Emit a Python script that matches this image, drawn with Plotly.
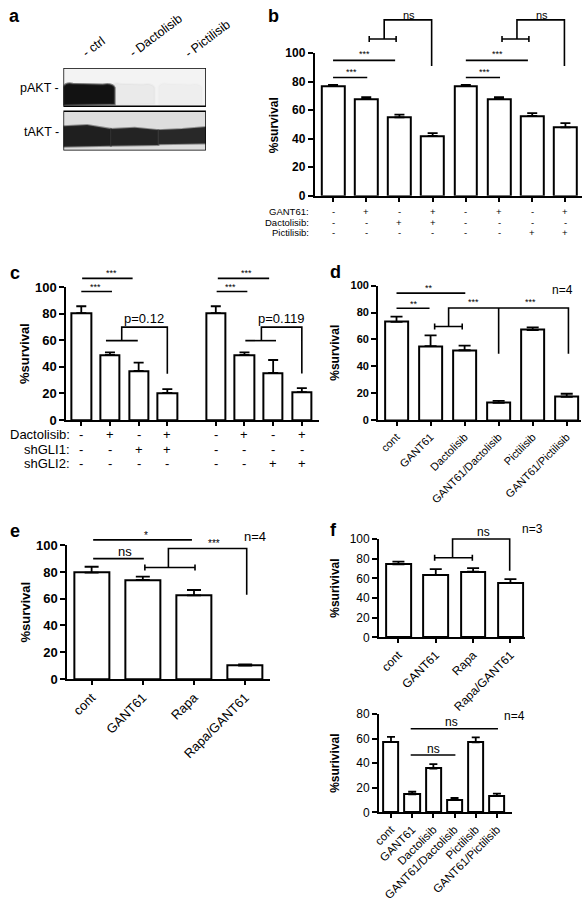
import plotly.graph_objects as go

W, H = 584, 903
FONT = "Liberation Sans"

# ---------------- data ----------------
blot_lanes = ["- ctrl", "- Dactolisib", "- Pictilisib"]
blot_rows = ["pAKT -", "tAKT -"]
pakt_band = [1.0, 0.04, 0.02]
takt_band = [0.95, 0.93, 0.9]

b_values = [77, 68, 55, 42, 77, 68, 56, 48]
b_errors = [0.8, 1.2, 2.0, 2.0, 0.8, 1.2, 2.0, 3.0]
b_rows = ["GANT61:", "Dactolisib:", "Pictilisib:"]
b_signs = [["-", "+", "-", "+", "-", "+", "-", "+"],
           ["-", "-", "+", "+", "-", "-", "-", "-"],
           ["-", "-", "-", "-", "-", "-", "+", "+"]]

c_values = [80.5, 49, 37, 20.5, 80.5, 49, 35.5, 21]
c_errors = [5.2, 2.0, 6.2, 2.8, 5.2, 2.0, 9.7, 3.0]
c_rows = ["Dactolisib:", "shGLI1:", "shGLI2:"]
c_signs = [["-", "+", "-", "+", "-", "+", "-", "+"],
           ["-", "-", "+", "+", "-", "-", "-", "-"],
           ["-", "-", "-", "-", "-", "-", "+", "+"]]

d_labels = ["cont", "GANT61", "Dactolisib", "GANT61/Dactolisib", "Pictilisib", "GANT61/Pictilisib"]
d_values = [73, 55, 52, 13, 67, 17.5]
d_errors = [4, 8, 3.5, 1.5, 2, 2.2]

e_labels = ["cont", "GANT61", "Rapa", "Rapa/GANT61"]
e_values = [79.5, 74, 62.5, 10]
e_errors = [4.4, 2.5, 4, 0.8]

f1_labels = ["cont", "GANT61", "Rapa", "Rapa/GANT61"]
f1_values = [74.3, 63.3, 66.7, 55.3]
f1_errors = [2.7, 6, 3.6, 4]

f2_labels = ["cont", "GANT61", "Dactolisib", "GANT61/Dactolisib", "Pictilisib", "GANT61/Pictilisib"]
f2_values = [57.4, 14.7, 35.7, 10.4, 57, 13.3]
f2_errors = [4, 2.1, 3.5, 1.3, 4, 1.9]

ticks_100 = [0, 20, 40, 60, 80, 100]
ticks_80 = [0, 20, 40, 60, 80]

# bar positions (category slots)
b_pos = [0, 1, 2, 3, 4, 5, 6, 7]
c_pos = [0, 1, 2, 3, 4.69, 5.69, 6.69, 7.69]
d_pos = [0, 1, 2, 3, 4, 5]
e_pos = [0, 1, 2, 3]
f2_pos = [0, 1, 2, 3, 4, 5]

# significance marks: polylines (x slot, y %), capped spans, texts
b_lines = [[(0, 83), (1.03, 83)], [(0, 95), (1.87, 95)],
           [(1.54, 110), (1.54, 123.4), (2.97, 123.4), (2.97, 91)],
           [(4, 83), (5.03, 83)], [(4, 95), (5.87, 95)],
           [(5.54, 110), (5.54, 123.4), (6.97, 123.4), (6.97, 91)]]
b_caps = [(1.09, 1.9, 110), (5.09, 5.9, 110)]
b_texts = [(0.55, 87, "***", 9), (0.94, 99.5, "***", 9), (2.28, 127, "ns", 11),
           (4.55, 87, "***", 9), (4.94, 99.5, "***", 9), (6.28, 127, "ns", 11)]

c_lines = [[(0, 96.8), (1.07, 96.8)], [(0.03, 106.7), (1.79, 106.7)],
           [(0.86, 59.8), (1.97, 59.8)], [(1.41, 59.8), (1.41, 70), (3.0, 70), (3.0, 34.8)],
           [(4.72, 96.8), (5.79, 96.8)], [(4.76, 106.7), (6.55, 106.7)],
           [(5.72, 59.8), (6.79, 59.8)], [(6.28, 59.8), (6.28, 70), (7.69, 70), (7.69, 35)]]
c_caps = []
c_texts = [(0.48, 100.5, "***", 9), (1.07, 111, "***", 9), (2.2, 76.5, "p=0.12", 13),
           (5.2, 100.5, "***", 9), (5.76, 111, "***", 9), (6.95, 76.5, "p=0.119", 13)]

d_lines = [[(0, 83.2), (0.97, 83.2)], [(0, 94.4), (2.02, 94.4)],
           [(1.53, 69.6), (1.53, 83.4), (5.05, 83.4), (5.05, 49.4)],
           [(3.0, 83.4), (3.0, 49.4)]]
d_caps = [(1.12, 1.93, 69.6)]
d_texts = [(0.51, 86.5, "**", 9), (0.94, 98, "**", 9), (2.25, 87.5, "***", 9),
           (3.94, 87.5, "***", 9), (4.87, 97, "n=4", 12)]

e_lines = [[(0.03, 90), (1.02, 90)], [(0.03, 104), (1.96, 104)],
           [(1.5, 83.3), (1.5, 97.5), (3.03, 97.5), (3.03, 63)]]
e_caps = [(1.04, 2.02, 83.3)]
e_texts = [(0.65, 95, "ns", 13), (1.07, 107.5, "*", 10), (2.39, 101, "***", 10),
           (3.2, 106.6, "n=4", 13)]

f1_lines = [[(1.45, 81), (1.45, 100), (2.98, 100), (2.98, 67.7)]]
f1_caps = [(0.97, 1.98, 81)]
f1_texts = [(2.27, 106.7, "ns", 12), (3.6, 110, "n=3", 12)]

f2_lines = [[(0.93, 46.7), (3.04, 46.7)], [(0.93, 68), (5.05, 68)]]
f2_caps = []
f2_texts = [(2.0, 51.5, "ns", 12), (2.85, 73.8, "ns", 12), (5.84, 78.4, "n=4", 12)]

# ---------------- figure ----------------
fig = go.Figure()
lay = {}
shapes, annots = [], []
EXT_R = 584


def key(letter, i):
    return f"{letter}axis" + ("" if i == 1 else str(i))


def ref(letter, i):
    return letter + ("" if i == 1 else str(i))


def add_panel(n, xs, vals, errs, g, bar_w, cap_w, ymax, yticks, tick_font,
              xlabels=None, xlab_size=11):
    bi, ei = 2 * n - 1, 2 * n
    bx, by, ex, ey = ref('x', bi), ref('y', bi), ref('x', ei), ref('y', ei)
    fig.add_trace(go.Bar(
        x=xs, y=vals, width=bar_w, xaxis=bx, yaxis=by,
        marker=dict(color='white', line=dict(color='black', width=2)),
        error_y=dict(type='data', symmetric=False, array=errs,
                     arrayminus=[0] * len(errs), color='black',
                     thickness=1.8, width=cap_w),
        showlegend=False, hoverinfo='skip'))
    fig.add_trace(go.Scatter(x=[], y=[], xaxis=ex, yaxis=ey, showlegend=False))
    lay[key('x', bi)] = dict(
        domain=[g['left'] / W, g['right'] / W], range=[g['xlo'], g['xhi']],
        anchor=by, showline=True, linecolor='black', linewidth=2,
        ticks='outside', ticklen=4, tickwidth=1.5, tickcolor='black',
        tickmode='array', tickvals=list(xs),
        ticktext=xlabels if xlabels else [''] * len(xs),
        tickangle=-45 if xlabels else 0,
        tickfont=dict(size=xlab_size, color='black', family=FONT),
        showgrid=False, zeroline=False, fixedrange=True)
    lay[key('y', bi)] = dict(
        domain=[1 - g['bottom'] / H, 1 - g['top'] / H], range=[0, ymax],
        anchor=bx, showline=True, linecolor='black', linewidth=2,
        ticks='outside', ticklen=5, tickwidth=1.5, tickcolor='black',
        tickmode='array', tickvals=yticks, tickfont=tick_font,
        showgrid=False, zeroline=False, fixedrange=True)
    span = (g['xhi'] - g['xlo']) * (EXT_R - g['left']) / (g['right'] - g['left'])
    lay[key('x', ei)] = dict(domain=[g['left'] / W, EXT_R / W],
                             range=[g['xlo'], g['xlo'] + span], anchor=ey,
                             visible=False, fixedrange=True)
    lay[key('y', ei)] = dict(
        domain=[1 - g['bottom'] / H, 1 - g['ext_top'] / H],
        range=[0, ymax * (g['bottom'] - g['ext_top']) / (g['bottom'] - g['top'])],
        anchor=ex, visible=False, fixedrange=True)
    return bx, ex, ey, (g['bottom'] - g['top']) / ymax


def draw_sig(ex, ey, ppu, lines, caps, texts, cap_px=3, lw=1.6):
    for pl in lines:
        path = "M " + " L ".join(f"{x},{y}" for x, y in pl)
        shapes.append(dict(type='path', path=path, xref=ex, yref=ey,
                           line=dict(color='black', width=lw)))
    h = cap_px / ppu
    for x0, x1, y in caps:
        path = (f"M {x0},{y - h} L {x0},{y + h} M {x0},{y} L {x1},{y} "
                f"M {x1},{y - h} L {x1},{y + h}")
        shapes.append(dict(type='path', path=path, xref=ex, yref=ey,
                           line=dict(color='black', width=lw)))
    for x, y, s, size in texts:
        annots.append(dict(x=x, y=y, xref=ex, yref=ey, text=s, showarrow=False,
                           font=dict(size=size, color='black', family=FONT),
                           xanchor='center', yanchor='middle'))


def ptext(xpx, ypx, s, size, bold=False, angle=0, xa='center', ya='middle'):
    annots.append(dict(x=xpx / W, y=1 - ypx / H, xref='paper', yref='paper',
                       text=(f"<b>{s}</b>" if bold else s), showarrow=False,
                       textangle=angle, xanchor=xa, yanchor=ya,
                       font=dict(size=size, color='black', family=FONT)))


def row_labels(bx, xs, rows, signs, right_px, ys_px, size):
    for r, lab in enumerate(rows):
        ptext(right_px, ys_px[r], lab, size, xa='right')
        for xi, s in zip(xs, signs[r]):
            annots.append(dict(x=xi, y=1 - ys_px[r] / H, xref=bx, yref='paper',
                               text=s, showarrow=False, xanchor='center',
                               yanchor='middle',
                               font=dict(size=size, color='black', family=FONT)))


bold12 = dict(size=12, color='black', family=FONT, weight='bold')
bold13 = dict(size=13, color='black', family=FONT, weight='bold')
bold11 = dict(size=11, color='black', family=FONT, weight='bold')
reg12 = dict(size=12, color='black', family=FONT)

# panel b
geo_b = dict(left=312, right=582, bottom=192, top=47, ext_top=0, xlo=-0.55, xhi=7.5)
bx, ex, ey, ppu = add_panel(1, b_pos, b_values, b_errors, geo_b, 0.69, 5, 100, ticks_100, bold12)
draw_sig(ex, ey, ppu, b_lines, b_caps, b_texts)
row_labels(bx, b_pos, b_rows, b_signs, 308, [208, 219, 229.5], 9.5)

# panel c
geo_c = dict(left=61, right=316, bottom=420, top=285, ext_top=250, xlo=-0.52, xhi=8.28)
bx, ex, ey, ppu = add_panel(2, c_pos, c_values, c_errors, geo_c, 0.67, 5, 100, ticks_100, bold13)
draw_sig(ex, ey, ppu, c_lines, c_caps, c_texts)
row_labels(bx, c_pos, c_rows, c_signs, 67, [435, 449.5, 464], 13)

# panel d
geo_d = dict(left=376, right=581, bottom=420.3, top=283.3, ext_top=255, xlo=-0.54, xhi=5.42)
bx, ex, ey, ppu = add_panel(3, d_pos, d_values, d_errors, geo_d, 0.68, 6, 100, ticks_100, bold11,
                            xlabels=d_labels, xlab_size=11)
draw_sig(ex, ey, ppu, d_lines, d_caps, d_texts)

# panel e
geo_e = dict(left=62, right=267, bottom=683.3, top=547.3, ext_top=515, xlo=-0.474, xhi=3.49)
bx, ex, ey, ppu = add_panel(4, e_pos, e_values, e_errors, geo_e, 0.68, 7, 100, ticks_100, bold13,
                            xlabels=e_labels, xlab_size=13)
draw_sig(ex, ey, ppu, e_lines, e_caps, e_texts)

# panel f top
geo_f1 = dict(left=377, right=524, bottom=641, top=541, ext_top=515, xlo=-0.517, xhi=3.38)
bx, ex, ey, ppu = add_panel(5, e_pos, f1_values, f1_errors, geo_f1, 0.66, 6, 100, ticks_100, reg12,
                            xlabels=f1_labels, xlab_size=12)
draw_sig(ex, ey, ppu, f1_lines, f1_caps, f1_texts)

# panel f bottom
geo_f2 = dict(left=377, right=511, bottom=819, top=719, ext_top=705, xlo=-0.56, xhi=5.7)
bx, ex, ey, ppu = add_panel(6, f2_pos, f2_values, f2_errors, geo_f2, 0.72, 4, 80, ticks_80, reg12,
                            xlabels=f2_labels, xlab_size=11.5)
draw_sig(ex, ey, ppu, f2_lines, f2_caps, f2_texts)

# panel a : western blot on its own lane axes
fig.add_trace(go.Scatter(x=[], y=[], xaxis='x13', yaxis='y13', showlegend=False))
lay['xaxis13'] = dict(domain=[58 / W, 202 / W], range=[0, 3], anchor='y13', visible=False, fixedrange=True)
lay['yaxis13'] = dict(domain=[1 - 146 / H, 1 - 62 / H], range=[0, 2.1], anchor='x13', visible=False, fixedrange=True)
shapes.append(dict(type='rect', xref='x13', yref='y13', x0=0, x1=3, y0=1.125, y1=2.1,
                   fillcolor='#f3f3f3', line=dict(width=0), layer='below'))
shapes.append(dict(type='rect', xref='x13', yref='y13', x0=0, x1=3, y0=0, y1=1,
                   fillcolor='#dedede', line=dict(width=0), layer='below'))
# pAKT bands (one per lane, darkness from intensity)
for i, v in enumerate(pakt_band):
    x0, x1 = i + 0.0, i + (1.08 if i == 0 else 0.92)
    path = (f"M {x0},1.16 L {x0},1.62 Q {x0 + 0.05},1.74 {x0 + 0.2},1.70 "
            f"L {x1 - 0.25},1.68 Q {x1 - 0.05},1.72 {x1},1.6 L {x1},1.18 Z")
    shapes.append(dict(type='path', path=path, xref='x13', yref='y13',
                       fillcolor=f'rgba(18,18,18,{v:.3f})',
                       line=dict(color=f'rgba(60,60,60,{0.6 * v:.3f})', width=2)))
# tAKT bands
t_top = [0.62, 0.55, 0.52]
t_bot = [0.1, 0.12, 0.16]
for i, v in enumerate(takt_band):
    x0, x1 = i, i + 1
    top_r = 0.6 if i == 2 else t_top[i + 1] if i + 1 < 3 else t_top[i]
    path = (f"M {x0},{t_bot[i]} L {x0},{t_top[i]} L {x0 + 0.5},{t_top[i] + 0.03} "
            f"L {x1},{top_r} L {x1},{t_bot[i] + 0.02} Z")
    shapes.append(dict(type='path', path=path, xref='x13', yref='y13',
                       fillcolor=f'rgba(20,20,20,{v:.3f})',
                       line=dict(color=f'rgba(50,50,50,{0.5 * v:.3f})', width=2)))
# box outlines
shapes.append(dict(type='rect', xref='x13', yref='y13', x0=0, x1=3, y0=1.125, y1=2.1,
                   line=dict(color='black', width=1.5)))
shapes.append(dict(type='rect', xref='x13', yref='y13', x0=0, x1=3, y0=0, y1=1,
                   line=dict(color='black', width=1.5)))
ptext(56, 82, blot_rows[0], 12.5, xa='right')
ptext(56, 127, blot_rows[1], 12.5, xa='right')
for xpx, lab in zip([72, 119, 175], blot_lanes):
    ptext(xpx, 57, lab, 12.5, angle=-37, xa='left', ya='bottom')

# panel letters
for xpx, ypx, s in [(9, 9, "a"), (270, 9, "b"), (9, 270, "c"), (333, 269, "d"),
                    (9, 533, "e"), (331, 532, "f")]:
    ptext(xpx, ypx, s, 18, bold=True)

# y titles
for xpx, ypx, s, size in [(271, 120, "%survival", 12), (18, 352, "%survival", 13),
                          (333, 352, "%survival", 12), (20, 615, "%survival", 13),
                          (333, 591, "%surivival", 12), (333, 769, "%surivival", 12)]:
    ptext(xpx, ypx, s, size, bold=True, angle=-90)

fig.update_layout(width=W, height=H, margin=dict(l=0, r=0, t=0, b=0),
                  paper_bgcolor='white', plot_bgcolor='rgba(0,0,0,0)',
                  showlegend=False, font=dict(family=FONT, color='black'),
                  shapes=shapes, annotations=annots, bargap=0, **lay)

fig.write_html("out.html", config={'displayModeBar': False},
               post_script="document.body.style.margin='0';"
                           "document.body.style.overflow='hidden';")
